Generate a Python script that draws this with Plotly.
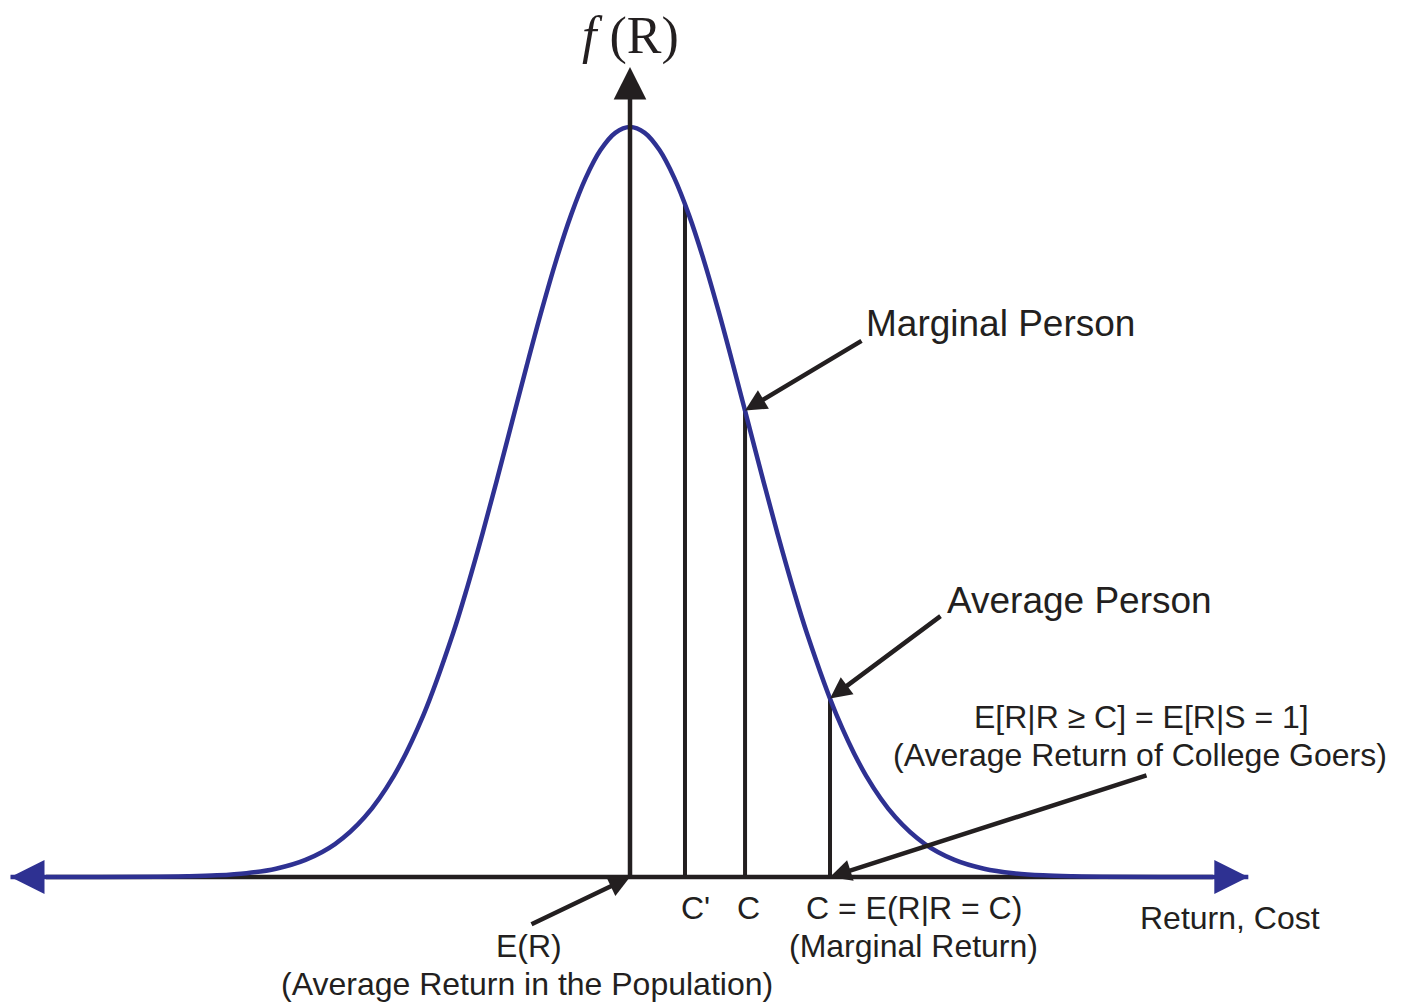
import plotly.graph_objs as go

# standardised return axis (mean 0, sd 1) and the density height relative to the peak
return_grid = [-5.25, -4.5, -4.0, -3.75, -3.5, -3.25, -3.0, -2.75, -2.5, -2.25, -2.0, -1.75, -1.5,
               -1.375, -1.25, -1.125, -1.0, -0.875, -0.75, -0.625, -0.5, -0.375, -0.25, -0.125,
               0.0, 0.125, 0.25, 0.375, 0.5, 0.625, 0.75, 0.875, 1.0, 1.125, 1.25, 1.375, 1.5,
               1.75, 2.0, 2.25, 2.5, 2.75, 3.0, 3.25, 3.5, 3.75, 4.0, 4.5, 5.24]
density = [0.0, 0.0, 0.0003, 0.0009, 0.0022, 0.0051, 0.0111, 0.0228, 0.0439, 0.0796, 0.1353,
           0.2163, 0.3247, 0.3886, 0.4578, 0.5311, 0.6065, 0.6819, 0.7548, 0.8226, 0.8825,
           0.9321, 0.9692, 0.9922, 1.0, 0.9922, 0.9692, 0.9321, 0.8825, 0.8226, 0.7548, 0.6819,
           0.6065, 0.5311, 0.4578, 0.3886, 0.3247, 0.2163, 0.1353, 0.0796, 0.0439, 0.0228,
           0.0111, 0.0051, 0.0022, 0.0009, 0.0003, 0.0, 0.0]

# cut-off points marked on the axis and where they meet the curve
cut_names = ["C'", "C", "C = E(R|R = C)"]
cut_x = [0.466, 0.975, 1.695]
cut_height = [0.896, 0.622, 0.238]

mean_return = 0.0
axis_left = -5.25
axis_right = 5.24
axis_top = 1.08

BLUE = '#2e3192'
INK = '#231f20'
FONT = 'Liberation Sans, Arial, sans-serif'

# page-pixel helpers for label placement; the page body adds an 8px margin
X0, SD_PX, BASE_PX, PEAK_PX = 630, 118, 877, 750
PAGE_PAD = 8


def px_x(p):
    return (p - X0) / SD_PX


def px_y(p):
    return (BASE_PX - p) / PEAK_PX


fig = go.Figure()

# vertical cut-off lines (below the curve)
for cx, ch in zip(cut_x, cut_height):
    fig.add_trace(go.Scatter(x=[cx, cx], y=[0, ch], mode='lines',
                             line=dict(color=INK, width=4), hoverinfo='skip'))

# horizontal axis
fig.add_trace(go.Scatter(x=[axis_left + 0.3, axis_right - 0.3], y=[0, 0], mode='lines',
                         line=dict(color=INK, width=4.5), hoverinfo='skip'))

# density curve
fig.add_trace(go.Scatter(x=return_grid, y=density, mode='lines',
                         line=dict(color=BLUE, width=4.5, shape='spline', smoothing=1),
                         hoverinfo='skip'))

ann = []

# blue arrow heads at both ends of the horizontal axis
for tip, tail in [(axis_left, axis_left + 0.4), (axis_right, axis_right - 0.4)]:
    ann.append(dict(x=tip, y=0, ax=tail, ay=0, axref='x', ayref='y', xref='x', yref='y',
                    text='', showarrow=True, arrowhead=2, arrowwidth=4, arrowsize=1.7,
                    arrowcolor=BLUE))

# vertical axis arrow
ann.append(dict(x=mean_return, y=axis_top, ax=mean_return, ay=0, axref='x', ayref='y',
                xref='x', yref='y', text='', showarrow=True, arrowhead=2, arrowwidth=4.5,
                arrowsize=1.45, arrowcolor=INK))

# pointer arrows
pointers = [
    ((cut_x[1], cut_height[1]), (863, 340)),
    ((cut_x[2], cut_height[2]), (942, 615)),
    ((cut_x[2], 0), (1148, 775)),
    ((mean_return, 0), (530, 925)),
]
for (tx, ty), (tpx, tpy) in pointers:
    ann.append(dict(x=tx, y=ty, ax=px_x(tpx), ay=px_y(tpy), axref='x', ayref='y',
                    xref='x', yref='y', text='', showarrow=True, arrowhead=2,
                    arrowwidth=4.5, arrowsize=0.95, arrowcolor=INK))

labels = [
    ('Marginal Person', 864, 323, 'left', 37),
    ('Average Person', 945, 600, 'left', 37),
    ('E[R|R \u2265 C] = E[R|S = 1]', 1141, 717, 'center', 32),
    ('(Average Return of College Goers)', 1140, 755, 'center', 32),
    (cut_names[0], 695, 908, 'center', 32),
    (cut_names[1], 748, 908, 'center', 32),
    (cut_names[2], 914, 908, 'center', 32),
    ('(Marginal Return)', 913, 946, 'center', 32),
    ('E(R)', 529, 946, 'center', 32),
    ('(Average Return in the Population)', 527, 984, 'center', 32),
    ('Return, Cost', 1230, 918, 'center', 32),
]
for txt, lx, ly, anchor, size in labels:
    ann.append(dict(x=px_x(lx), y=px_y(ly), xref='x', yref='y', text=txt, showarrow=False,
                    xanchor=anchor, yanchor='middle',
                    font=dict(family=FONT, size=size, color=INK)))

# f(R) axis title
ann.append(dict(x=px_x(630), y=px_y(36), xref='x', yref='y', text='<i>f</i> (R)',
                showarrow=False, xanchor='center', yanchor='middle',
                font=dict(family='Liberation Serif, Times New Roman, serif', size=52, color=INK)))

fig.update_layout(
    width=1408 - PAGE_PAD, height=1007 - PAGE_PAD,
    margin=dict(l=0, r=0, t=0, b=0),
    paper_bgcolor='white', plot_bgcolor='white',
    showlegend=False,
    xaxis=dict(range=[px_x(PAGE_PAD), px_x(1408)], visible=False, fixedrange=True),
    yaxis=dict(range=[px_y(1007), px_y(PAGE_PAD)], visible=False, fixedrange=True),
    annotations=ann,
)

fig.write_html("out.html")
